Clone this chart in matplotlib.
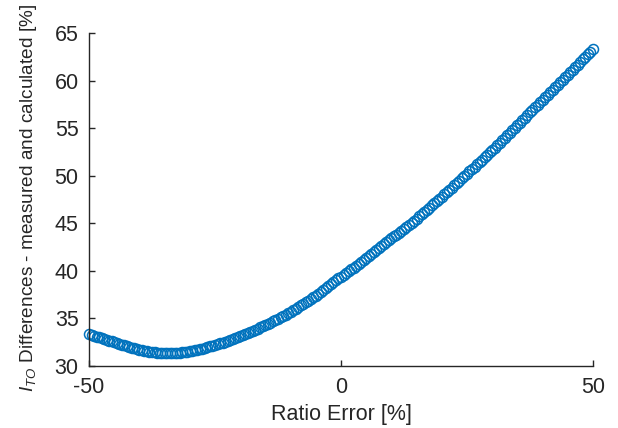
import matplotlib
matplotlib.use("Agg")
import matplotlib.pyplot as plt

plt.rcParams['font.family'] = ['Liberation Sans', 'DejaVu Sans']
plt.rcParams['mathtext.fontset'] = 'custom'
plt.rcParams['mathtext.it'] = 'Liberation Sans:italic'
plt.rcParams['mathtext.rm'] = 'Liberation Sans'
plt.rcParams['axes.unicode_minus'] = False

ratio_error = [i / 2 for i in range(-100, 101)]
differences = [
    33.35, 33.27, 33.18, 33.09, 33.0, 32.91, 32.82, 32.74, 32.66, 32.58,
    32.5, 32.41, 32.33, 32.25, 32.17, 32.09, 32.02, 31.94, 31.86, 31.79,
    31.72, 31.66, 31.6, 31.55, 31.5, 31.46, 31.43, 31.4, 31.38, 31.36,
    31.35, 31.35, 31.35, 31.36, 31.37, 31.39, 31.41, 31.44, 31.47, 31.51,
    31.55, 31.6, 31.65, 31.71, 31.77, 31.83, 31.9, 31.97, 32.05, 32.12,
    32.2, 32.28, 32.37, 32.45, 32.54, 32.63, 32.72, 32.81, 32.9, 33.0,
    33.1, 33.21, 33.33, 33.44, 33.56, 33.68, 33.8, 33.92, 34.05, 34.17,
    34.3, 34.43, 34.57, 34.7, 34.84, 34.98, 35.12, 35.26, 35.4, 35.55,
    35.7, 35.86, 36.03, 36.2, 36.37, 36.54, 36.71, 36.88, 37.05, 37.22,
    37.4, 37.6, 37.8, 38.0, 38.2, 38.4, 38.6, 38.8, 39.0, 39.2,
    39.4, 39.59, 39.78, 39.97, 40.16, 40.35, 40.54, 40.73, 40.92, 41.11,
    41.3, 41.51, 41.72, 41.93, 42.14, 42.35, 42.56, 42.77, 42.98, 43.19,
    43.4, 43.61, 43.82, 44.03, 44.24, 44.45, 44.66, 44.87, 45.08, 45.29,
    45.5, 45.73, 45.96, 46.19, 46.42, 46.65, 46.88, 47.11, 47.34, 47.57,
    47.8, 48.04, 48.28, 48.52, 48.76, 49.0, 49.24, 49.48, 49.72, 49.96,
    50.2, 50.45, 50.7, 50.95, 51.2, 51.45, 51.7, 51.95, 52.2, 52.45,
    52.7, 52.96, 53.22, 53.48, 53.74, 54.0, 54.26, 54.52, 54.78, 55.04,
    55.3, 55.57, 55.84, 56.11, 56.38, 56.65, 56.92, 57.19, 57.46, 57.73,
    58.0, 58.26, 58.52, 58.78, 59.04, 59.3, 59.56, 59.82, 60.08, 60.34,
    60.6, 60.87, 61.14, 61.41, 61.68, 61.95, 62.22, 62.49, 62.76, 63.03,
    63.3,
]
xticks = [-50, 0, 50]
yticks = [30, 35, 40, 45, 50, 55, 60, 65]

fig = plt.figure(figsize=(6.18, 4.28), dpi=100)
ax = fig.add_axes([0.144, 0.1449, 0.8155, 0.778])
ax.plot(ratio_error, differences, linestyle='none', marker='o', markersize=7.2,
        markerfacecolor='none', markeredgecolor='#0072BD', markeredgewidth=1.1,
        clip_on=False)
ax.set_xlim(-50, 50)
ax.set_ylim(30, 65)
ax.set_xticks(xticks)
ax.set_yticks(yticks)
for s in ['top', 'right']:
    ax.spines[s].set_visible(False)
for s in ['left', 'bottom']:
    ax.spines[s].set_color('#262626')
    ax.spines[s].set_linewidth(1.0)
ax.tick_params(direction='in', length=4.3, width=1.0, colors='#262626',
               labelsize=15.5)
ax.tick_params(axis='x', pad=8)
ax.tick_params(axis='y', pad=7.5)
ax.set_xlabel('Ratio Error [%]', fontsize=15.5, color='#262626')
ax.xaxis.set_label_coords(0.5, -0.115)
ax.set_ylabel(r'$I_{TO}$ Differences - measured and calculated [%]',
              fontsize=13.7, color='#262626')
ax.yaxis.set_label_coords(-0.1, 0.505)
fig.savefig('out.png', dpi=100)
